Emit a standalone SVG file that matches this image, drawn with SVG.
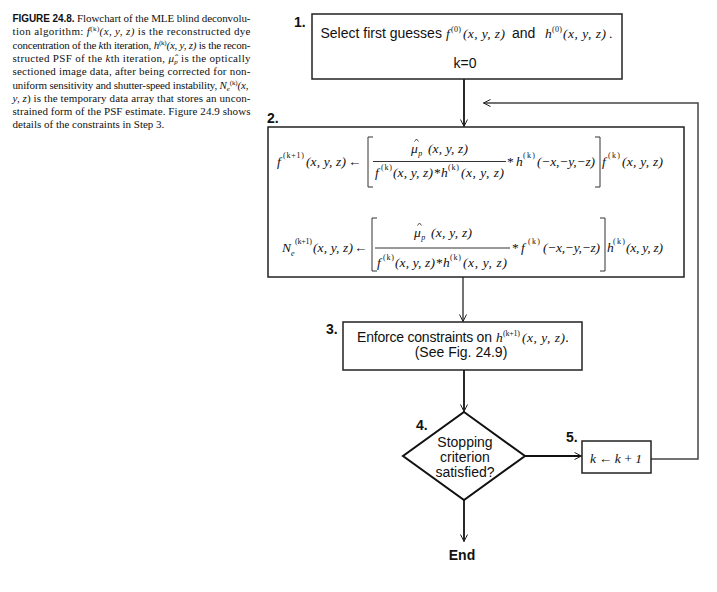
<svg xmlns="http://www.w3.org/2000/svg" width="717" height="592" viewBox="0 0 717 592">
<style>
text{fill:#111}
.cap{font-family:"Liberation Serif","Times New Roman",serif;font-size:11px}
.capb{font-family:"Liberation Sans",Arial,sans-serif;font-weight:bold;font-size:10px}
.i{font-style:italic}
.sans{font-family:"Liberation Sans",Arial,sans-serif;font-size:14px}
.lbl{font-family:"Liberation Sans",Arial,sans-serif;font-size:14px;font-weight:bold}
.m{font-family:"Liberation Serif","Times New Roman",serif;font-style:italic;font-size:13.5px}
.mu{font-family:"Liberation Serif","Times New Roman",serif;font-size:13.5px}
.sm{font-family:"Liberation Serif","Times New Roman",serif;font-size:8px}
.box{fill:#fff;stroke:#222;stroke-width:1.5}
.br{fill:none;stroke:#333;stroke-width:1}
.hat{fill:none;stroke:#222;stroke-width:0.8}
.bar{stroke:#333;stroke-width:1}
.c{fill:none;stroke:#111;stroke-width:1.8}
.cg{fill:none;stroke:#444;stroke-width:1.5}
</style>
<defs>
<marker id="ah" viewBox="-8 -5 9 10" refX="0" refY="0" markerWidth="9" markerHeight="10" markerUnits="userSpaceOnUse" orient="auto">
<path d="M-7,-3.5 L0,0 L-7,3.5" fill="none" stroke="#222" stroke-width="1"/>
</marker>
</defs>

<g id="caption" class="cap">
<text x="12.5" y="22" textLength="238" lengthAdjust="spacing"><tspan class="capb">FIGURE 24.8.</tspan> Flowchart of the MLE blind deconvolu-</text>
<text x="12.5" y="35.3" textLength="238" lengthAdjust="spacing">tion algorithm: <tspan class="i">f</tspan><tspan font-size="7" dy="-4">(k)</tspan><tspan class="i" dy="4">(x, y, z)</tspan> is the reconstructed dye</text>
<text x="12.5" y="48.6" textLength="238" lengthAdjust="spacing">concentration of the <tspan class="i">k</tspan>th iteration, <tspan class="i">h</tspan><tspan font-size="7" dy="-4">(k)</tspan><tspan class="i" dy="4">(x, y, z)</tspan> is the recon-</text>
<text x="12.5" y="61.9" textLength="238" lengthAdjust="spacing">structed PSF of the <tspan class="i">k</tspan>th iteration, <tspan class="i">μ̂</tspan><tspan class="i" font-size="7" dy="2">p</tspan><tspan dy="-2"> is the optically</tspan></text>
<text x="12.5" y="75.2" textLength="238" lengthAdjust="spacing">sectioned image data, after being corrected for non-</text>
<text x="12.5" y="88.5" textLength="236" lengthAdjust="spacing">uniform sensitivity and shutter-speed instability, <tspan class="i">N</tspan><tspan class="i" font-size="7" dy="2">e</tspan><tspan font-size="7" dy="-6">(k)</tspan><tspan class="i" dy="4">(x,</tspan></text>
<text x="12.5" y="101.8" textLength="238" lengthAdjust="spacing"><tspan class="i">y, z</tspan>) is the temporary data array that stores an uncon-</text>
<text x="12.5" y="115.1" textLength="238" lengthAdjust="spacing">strained form of the PSF estimate. Figure 24.9 shows</text>
<text x="12.5" y="128.4">details of the constraints in Step 3.</text>
</g>

<g id="connectors">
<path class="c" d="M464,79 V126.5" marker-end="url(#ah)"/>
<path class="cg" d="M463,277 V321.5" marker-end="url(#ah)"/>
<path class="c" d="M464,370 V411.5" marker-end="url(#ah)"/>
<path class="c" d="M525,456 H581.5" marker-end="url(#ah)"/>
<path class="c" d="M464,500 V541.5" marker-end="url(#ah)"/>
<path class="cg" d="M651,459 H698 V103 H483.5" marker-end="url(#ah)"/>
</g>

<g id="step1">
<rect class="box" x="312" y="14" width="310" height="65"/>
<text class="lbl" x="294" y="27">1.</text>
<text class="sans" x="320.5" y="38">Select first guesses</text>
<text class="m" x="446" y="38" font-size="12.5">f</text>
<text class="sm" x="451" y="32" textLength="10" font-size="7">(0)</text>
<text class="m" x="463" y="38" font-size="12.5" textLength="42">(x, y, z)</text>
<text class="sans" x="512" y="38">and</text>
<text class="m" x="545" y="38" font-size="12.5">h</text>
<text class="sm" x="552" y="32" textLength="10" font-size="7">(0)</text>
<text class="m" x="563" y="38" font-size="12.5" textLength="43">(x, y, z)</text>
<text class="mu" x="609" y="38">.</text>
<text class="sans" x="465" y="68" text-anchor="middle">k=0</text>
</g>

<g id="step2">
<rect class="box" x="268" y="127" width="416" height="150"/>
<text class="lbl" x="267" y="123">2.</text>
<!-- equation 1 -->
<text class="m" x="277" y="166">f</text>
<text class="sm" x="283" y="158" textLength="21">(k+1)</text>
<text class="m" x="306" y="166" textLength="40">(x, y, z)</text>
<text class="mu" x="348" y="166" font-size="12" textLength="14">←</text>
<path class="br" d="M373,137 H368 V187 H373"/>
<path class="hat" d="M414.5,141.5 L416.5,139 L418.5,141.5"/>
<text class="m" x="411" y="153">μ<tspan class="sm" font-style="italic" dx="0.5" dy="3">p</tspan></text>
<text class="m" x="428" y="153" textLength="40">(x, y, z)</text>
<line class="bar" x1="373" y1="161.5" x2="506" y2="161.5"/>
<text class="m" x="375" y="177">f</text>
<text class="sm" x="381" y="170" textLength="11">(k)</text>
<text class="m" x="393" y="177" textLength="40">(x, y, z)</text>
<text class="mu" x="434" y="177">*</text>
<text class="m" x="441" y="177">h</text>
<text class="sm" x="448" y="170" textLength="11">(k)</text>
<text class="m" x="461" y="177" textLength="43">(x, y, z)</text>
<text class="mu" x="507" y="166">*</text>
<text class="m" x="516" y="166">h</text>
<text class="sm" x="523" y="158" textLength="12">(k)</text>
<text class="m" x="537" y="166" textLength="58">(−x,−y,−z)</text>
<path class="br" d="M595,137 H600 V187 H595"/>
<text class="m" x="602" y="166">f</text>
<text class="sm" x="608" y="158" textLength="12">(k)</text>
<text class="m" x="622" y="166" textLength="41">(x, y, z)</text>
<!-- equation 2 -->
<text class="m" x="282" y="252">N</text>
<text class="sm" x="291" y="256" font-style="italic">e</text>
<text class="sm" x="295" y="244" textLength="17">(k+1)</text>
<text class="m" x="313" y="252" textLength="40">(x, y, z)</text>
<text class="mu" x="354" y="252" font-size="12" textLength="13">←</text>
<path class="br" d="M377,218 H372 V271 H377"/>
<path class="hat" d="M417.5,225.5 L419.5,223 L421.5,225.5"/>
<text class="m" x="414" y="237">μ<tspan class="sm" font-style="italic" dx="0.5" dy="3">p</tspan></text>
<text class="m" x="431" y="237" textLength="41">(x, y, z)</text>
<line class="bar" x1="375" y1="248" x2="510" y2="248"/>
<text class="m" x="377" y="267">f</text>
<text class="sm" x="383" y="260" textLength="11">(k)</text>
<text class="m" x="395" y="267" textLength="40">(x, y, z)</text>
<text class="mu" x="436" y="267">*</text>
<text class="m" x="443" y="267">h</text>
<text class="sm" x="450" y="260" textLength="11">(k)</text>
<text class="m" x="463" y="267" textLength="44">(x, y, z)</text>
<text class="mu" x="512" y="252">*</text>
<text class="m" x="521" y="252">f</text>
<text class="sm" x="528" y="244" textLength="12">(k)</text>
<text class="m" x="543" y="252" textLength="57">(−x,−y,−z)</text>
<path class="br" d="M600,218 H605 V271 H600"/>
<text class="m" x="607" y="252">h</text>
<text class="sm" x="613" y="244" textLength="12">(k)</text>
<text class="m" x="626" y="252" textLength="37">(x, y, z)</text>
</g>

<g id="step3">
<rect class="box" x="343" y="322" width="239" height="48" stroke-width="1.8"/>
<text class="lbl" x="326" y="334">3.</text>
<text class="sans" x="357" y="342" textLength="135">Enforce constraints on</text>
<text class="m" x="496" y="342" font-size="12.5">h</text>
<text class="sm" x="503" y="336" textLength="17" font-size="7">(k+1)</text>
<text class="m" x="522" y="342" font-size="12.5" textLength="43">(x, y, z)</text>
<text class="sans" x="565" y="342">.</text>
<text class="sans" x="461" y="357" text-anchor="middle">(See Fig. 24.9)</text>
</g>

<g id="step4">
<polygon points="464,412 525,456 464,500 403,456" fill="#fff" stroke="#111" stroke-width="2"/>
<text class="lbl" x="416" y="430">4.</text>
<text class="sans" x="465" y="447" text-anchor="middle">Stopping</text>
<text class="sans" x="465" y="462" text-anchor="middle">criterion</text>
<text class="sans" x="465" y="477" text-anchor="middle">satisfied?</text>
</g>

<g id="step5">
<rect class="box" x="582" y="441" width="69" height="32"/>
<text class="lbl" x="566" y="442">5.</text>
<text class="m" x="590" y="463" textLength="52">k ← k + 1</text>
</g>

<g id="end">
<text class="lbl" x="462" y="560" text-anchor="middle">End</text>
</g>
</svg>
